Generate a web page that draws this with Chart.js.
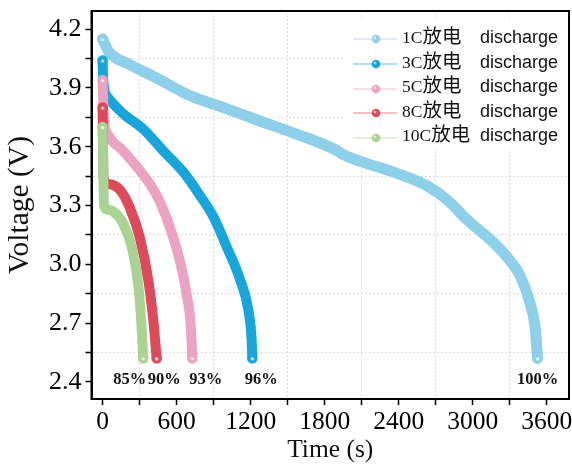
<!DOCTYPE html>
<html>
<head>
<meta charset="utf-8">
<script src="https://cdn.jsdelivr.net/npm/chart.js@4/dist/chart.umd.min.js"></script>
<style>
  html, body { margin: 0; padding: 0; background: #fff; }
  #wrap { position: relative; width: 572px; height: 464px; }
  #legend {
    position: absolute; left: 345px; top: 18px;
    padding: 5px 0 4px 8px; width: 215px;
    background: rgba(255, 255, 255, 0.92);
  }
  .row { height: 24.6px; line-height: 24.6px; white-space: nowrap; color: #111; }
  .row svg { vertical-align: middle; }
  .lab { display: inline-block; min-width: 78px; margin-left: 5px; }
  .num { font-family: "Liberation Serif", "Times New Roman", serif; font-size: 17.5px; }
  .cjk { font-family: "Noto Sans CJK SC", sans-serif; font-size: 19.5px; }
  .en { font-family: "Liberation Sans", Arial, sans-serif; font-size: 18px; }
</style>
</head>
<body>
<div id="wrap">
  <canvas id="chart" width="572" height="464"></canvas>
  <div id="legend"></div>
</div>
<script>
// discharge curves (time in s, voltage in V)
var rates = ['1C', '3C', '5C', '8C', '10C'];

var time1C = [0, 45, 220, 440, 710, 980, 1280, 1550, 1900, 1935, 2090, 2360, 2630, 2790, 2950, 3170, 3300, 3385, 3465, 3505, 3525];
var volt1C = [4.15, 4.09, 4.02, 3.95, 3.86, 3.80, 3.73, 3.67, 3.58, 3.565, 3.525, 3.47, 3.40, 3.33, 3.23, 3.11, 3.02, 2.94, 2.80, 2.68, 2.52];

var time3C = [0, 5, 45, 165, 330, 490, 655, 790, 900, 1005, 1115, 1180, 1208, 1213];
var volt3C = [4.04, 3.94, 3.85, 3.77, 3.69, 3.58, 3.47, 3.35, 3.24, 3.09, 2.92, 2.77, 2.61, 2.52];

var time5C = [0, 3, 10, 45, 165, 300, 440, 545, 625, 680, 715, 727];
var volt5C = [3.94, 3.87, 3.75, 3.66, 3.58, 3.48, 3.35, 3.19, 3.02, 2.85, 2.68, 2.52];

var time8C = [0, 8, 50, 140, 220, 300, 370, 410, 438];
var volt8C = [3.80, 3.44, 3.41, 3.38, 3.29, 3.14, 2.92, 2.72, 2.52];

var time10C = [0, 12, 35, 85, 165, 235, 290, 316, 329];
var volt10C = [3.70, 3.30, 3.28, 3.27, 3.21, 3.09, 2.89, 2.68, 2.52];

// capacity labels under the curve ends
var capLabels = ['85%', '90%', '93%', '96%', '100%'];
var capTimes = [220, 500, 835, 1285, 3525];
var capVolt = 2.41;

var xTicks = [0, 300, 600, 900, 1200, 1500, 1800, 2100, 2400, 2700, 3000, 3300, 3600];
var yTicks = [2.4, 2.55, 2.7, 2.85, 3.0, 3.15, 3.3, 3.45, 3.6, 3.75, 3.9, 4.05, 4.2];

var times = [time1C, time3C, time5C, time8C, time10C];
var volts = [volt1C, volt3C, volt5C, volt8C, volt10C];
var colors = ['#8ecfea', '#18a5db', '#eba3c1', '#dc4a5b', '#aad393'];

var serif = '"Liberation Serif", "Times New Roman", serif';

function makeBall(color) {
    var c = document.createElement('canvas');
    c.width = 12;
    c.height = 12;
    var g = c.getContext('2d');
    g.fillStyle = color;
    g.beginPath();
    g.arc(6, 6, 5.2, 0, Math.PI * 2);
    g.fill();
    g.fillStyle = 'rgba(255,255,255,0.85)';
    g.beginPath();
    g.arc(6, 6.5, 1.6, 0, Math.PI * 2);
    g.fill();
    return c;
}

function isMajorX(v) { return v % 600 === 0; }
function isMajorY(v) { return Math.round(v * 100) % 30 === 0; }

// drop the extra room Chart.js keeps for the outer tick labels
function noEdgePadding(s) {
    s.paddingLeft = 0;
    s.paddingRight = 0;
    s.paddingTop = 0;
    s.paddingBottom = 0;
}

var datasets = rates.map(function(rate, i) {
    var last = times[i].length - 1;
    return {
        label: rate,
        data: times[i].map(function(t, k) { return { x: t, y: volts[i][k] }; }),
        borderColor: colors[i],
        backgroundColor: colors[i],
        borderWidth: i === 0 ? 11 : 10,
        borderCapStyle: 'round',
        borderJoinStyle: 'round',
        cubicInterpolationMode: 'monotone',
        pointStyle: makeBall(colors[i]),
        pointRadius: function(c) { return (c.dataIndex === 0 || c.dataIndex === last) ? 5 : 0; },
        fill: false,
        order: rates.length - i
    };
});

// full black frame around the plot
var framePlugin = {
    id: 'frame',
    afterDraw: function(chart) {
        var a = chart.chartArea, ctx = chart.ctx;
        ctx.save();
        ctx.strokeStyle = '#000';
        ctx.lineWidth = 2;
        ctx.strokeRect(a.left, a.top, a.right - a.left, a.bottom - a.top);
        ctx.restore();
    }
};

var capPlugin = {
    id: 'caps',
    afterDatasetsDraw: function(chart) {
        var ctx = chart.ctx, xs = chart.scales.x, ys = chart.scales.y;
        ctx.save();
        ctx.font = 'bold 16.5px ' + serif;
        ctx.fillStyle = '#111';
        ctx.textAlign = 'center';
        ctx.textBaseline = 'middle';
        capLabels.forEach(function(txt, i) {
            ctx.fillText(txt, xs.getPixelForValue(capTimes[i]), ys.getPixelForValue(capVolt));
        });
        ctx.restore();
    }
};

new Chart(document.getElementById('chart').getContext('2d'), {
    type: 'line',
    data: { datasets: datasets },
    options: {
        responsive: false,
        animation: false,
        layout: { autoPadding: false, padding: { top: 11, right: 3, left: 0, bottom: 0 } },
        plugins: { legend: { display: false }, tooltip: { enabled: false } },
        scales: {
            x: {
                type: 'linear',
                min: -90,
                max: 3780,
                afterBuildTicks: function(s) { s.ticks = xTicks.map(function(v) { return { value: v }; }); },
                afterFit: function(s) { s.height = 65; noEdgePadding(s); },
                ticks: {
                    autoSkip: false,
                    maxRotation: 0,
                    padding: 2,
                    color: '#000',
                    font: { family: serif, size: 25.5 },
                    callback: function(v) { return isMajorX(v) ? String(v) : ''; }
                },
                grid: {
                    color: function(c) { return c.tick && !isMajorX(c.tick.value) ? 'rgba(0,0,0,0.13)' : 'rgba(0,0,0,0)'; },
                    tickColor: '#000',
                    tickLength: 6,
                    tickWidth: 1.5,
                    lineWidth: 1
                },
                border: { display: true, color: '#000', width: 2, dash: [2, 2] },
                title: {
                    display: true,
                    text: 'Time (s)',
                    color: '#111',
                    font: { family: serif, size: 25.5, lineHeight: 1.1 },
                    padding: { top: 0, bottom: 0 }
                }
            },
            y: {
                type: 'linear',
                min: 2.312,
                max: 4.293,
                afterBuildTicks: function(s) { s.ticks = yTicks.map(function(v) { return { value: v }; }); },
                afterFit: function(s) { s.width = 91.5; noEdgePadding(s); },
                ticks: {
                    autoSkip: false,
                    padding: 4,
                    color: '#000',
                    font: { family: serif, size: 26 },
                    callback: function(v) { return isMajorY(v) ? v.toFixed(1) : ''; }
                },
                grid: {
                    color: function(c) { return c.tick && !isMajorY(c.tick.value) ? 'rgba(0,0,0,0.13)' : 'rgba(0,0,0,0)'; },
                    tickColor: '#000',
                    tickLength: 6,
                    tickWidth: 1.5,
                    lineWidth: 1
                },
                border: { display: true, color: '#000', width: 2, dash: [2, 2] },
                title: {
                    display: true,
                    text: 'Voltage (V)',
                    color: '#111',
                    font: { family: serif, size: 29.5, lineHeight: 1.2 },
                    padding: { top: 3, bottom: 0 }
                }
            }
        }
    },
    plugins: [framePlugin, capPlugin]
});

// legend: line + ball, then "xC放电" and "discharge"
var legend = document.getElementById('legend');
rates.forEach(function(rate, i) {
    var row = document.createElement('div');
    row.className = 'row';
    row.innerHTML =
        '<svg width="44" height="12">' +
        '<line x1="0" y1="6" x2="44" y2="6" stroke="' + colors[i] + '" stroke-opacity="0.7" stroke-width="1.2"/>' +
        '<circle cx="23" cy="6" r="4.3" fill="' + colors[i] + '"/>' +
        '<circle cx="22" cy="5" r="1.4" fill="#fff" fill-opacity="0.6"/>' +
        '</svg>' +
        '<span class="lab"><span class="num">' + rate + '</span><span class="cjk">放电</span></span>' +
        '<span class="en">discharge</span>';
    legend.appendChild(row);
});
</script>
</body>
</html>
